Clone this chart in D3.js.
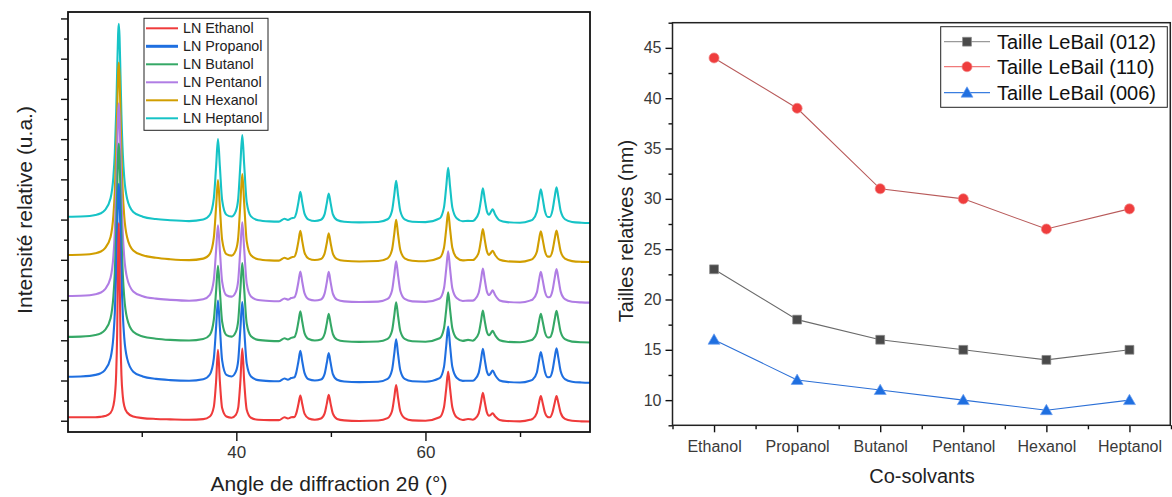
<!DOCTYPE html>
<html><head><meta charset="utf-8">
<script src="https://cdn.jsdelivr.net/npm/d3@7"></script>
<style>
html,body{margin:0;padding:0;background:#fff;}
svg{display:block;font-family:"Liberation Sans",Arial,sans-serif;}
</style></head>
<body><svg id="c" width="1172" height="497"></svg>
<script>
// ---------- Left panel data: XRD patterns (2θ in degrees, intensity in arbitrary units) ----------
const twoTheta = [
 22.2,23.5,24.5,25.1,25.6,26.1,26.7,27.0,27.15,27.3,27.4,27.5,27.57,27.65,27.75,27.85,28.0,28.15,28.45,29.1,30.1,31.5,33.0,35.0,
 36.5,37.2,37.62,37.86,38.06,38.26,38.5,38.95,39.5,39.95,40.2,40.43,40.63,40.83,41.1,41.55,42.3,43.5,
 44.5,45.1,45.45,45.8,46.15,46.33,46.57,46.77,46.97,47.21,47.65,48.3,
 48.95,49.33,49.57,49.77,49.97,50.21,50.65,51.4,53.0,
 55.0,56.0,56.46,56.7,56.9,57.1,57.34,57.8,58.6,60.0,
 61.5,61.96,62.2,62.4,62.6,62.84,63.3,63.95,64.5,65.0,
 65.2,65.63,65.87,66.07,66.27,66.5,66.72,66.9,67.1,67.38,67.85,68.6,70.0,
 71.05,71.35,71.78,72.0,72.2,72.4,72.63,72.95,73.15,73.43,73.66,73.86,74.06,74.3,74.75,75.5,76.5,77.5
];
const ethanol = [
 1.1,1.1,1.1,1.1,1.2,1.4,2.2,4.0,6.4,12.3,22.2,40.7,49.4,38.7,20.8,11.7,6.2,3.9,2.3,1.3,0.9,0.7,0.6,0.5,
 0.65,1.3,3.7,10.0,17.9,10.0,3.4,1.3,1.0,1.7,3.5,10.1,18.2,10.1,3.0,1.0,0.5,0.4,
 0.4,1.1,0.8,1.1,1.2,2.0,4.4,6.5,4.4,2.0,0.8,0.5,
 0.8,2.0,4.5,6.7,4.5,2.0,0.7,0.35,0.2,
 0.3,0.9,2.6,6.0,9.1,6.0,2.6,0.9,0.35,0.25,
 1.1,3.6,8.3,12.5,8.3,3.6,1.1,0.45,0.7,0.5,
 0.7,2.1,4.8,7.2,4.9,2.3,1.5,1.7,2.1,1.3,0.46,0.2,0.1,
 0.47,0.73,2.2,4.6,6.4,4.6,2.3,1.15,1.1,2.3,4.6,6.4,4.6,2.2,0.7,0.23,0.09,0.04
];
const propanol = [
 1.55,1.6,1.75,2.0,2.35,3.2,6.2,11.5,17.4,27.8,37.7,47.0,49.5,46.3,36.7,26.9,16.9,11.2,6.1,2.8,1.6,1.0,0.7,0.53,
 0.9,2.1,6.1,13.8,20.5,13.8,5.6,2.0,1.6,2.8,5.6,13.5,20.1,13.4,4.8,1.6,0.7,0.45,
 0.4,1.1,0.8,1.2,1.4,2.5,5.4,8.0,5.4,2.5,0.9,0.6,
 0.85,2.2,5.0,7.4,5.0,2.2,0.8,0.35,0.2,
 0.3,1.0,3.15,7.2,10.85,7.2,3.15,1.0,0.4,0.3,
 1.2,4.0,9.3,14.0,9.3,4.0,1.3,0.5,0.55,0.55,
 0.8,2.5,5.65,8.5,5.8,2.8,1.95,2.4,3.1,1.9,0.6,0.25,0.1,
 0.55,0.87,2.6,5.5,7.7,5.6,2.8,1.4,1.45,3.05,6.2,8.6,6.15,2.9,0.95,0.3,0.11,0.05
];
const butanol = [
 1.45,1.5,1.65,1.9,2.25,3.1,6.1,11.5,17.4,27.8,37.7,47.0,49.5,46.3,36.7,26.9,16.9,11.2,6.0,2.7,1.55,1.0,0.7,0.53,
 0.9,1.95,5.7,12.8,19.1,12.9,5.2,1.9,1.5,2.7,5.5,13.3,19.8,13.3,4.7,1.6,0.7,0.45,
 0.4,1.1,0.8,1.2,1.4,2.4,5.25,7.8,5.25,2.4,0.9,0.55,
 0.8,2.15,4.8,7.2,4.8,2.15,0.76,0.35,0.2,
 0.3,0.95,2.9,6.7,10.05,6.7,2.9,0.95,0.37,0.25,
 1.1,3.6,8.3,12.5,8.3,3.6,1.1,0.45,0.7,0.5,
 0.77,2.35,5.3,8.0,5.4,2.65,1.85,2.3,2.95,1.8,0.6,0.24,0.1,
 0.53,0.82,2.45,5.15,7.2,5.2,2.6,1.3,1.35,2.8,5.7,7.9,5.65,2.65,0.87,0.27,0.1,0.05
];
const pentanol = [
 1.7,1.75,1.9,2.15,2.5,3.35,6.25,11.6,17.5,27.9,37.8,47.1,49.6,46.4,36.8,27.0,17.0,11.3,6.15,2.85,1.67,1.05,0.75,0.53,
 0.9,2.0,5.7,13.0,19.3,13.0,5.3,1.9,1.55,2.75,5.6,13.5,20.0,13.4,4.8,1.6,0.7,0.45,
 0.4,1.1,0.8,1.2,1.4,2.4,5.25,7.8,5.25,2.4,0.9,0.6,
 0.86,2.3,5.15,7.7,5.15,2.3,0.8,0.36,0.2,
 0.3,0.97,3.0,6.9,10.35,6.9,3.0,0.97,0.37,0.25,
 1.1,3.65,8.5,12.8,8.5,3.65,1.2,0.47,0.55,0.55,
 0.8,2.5,5.65,8.5,5.8,2.8,1.95,2.4,3.1,1.9,0.6,0.25,0.1,
 0.56,0.87,2.6,5.5,7.7,5.6,2.8,1.4,1.45,3.0,6.1,8.4,6.0,2.8,0.93,0.29,0.11,0.05
];
const hexanol = [
 1.8,1.85,2.0,2.25,2.6,3.45,6.3,11.65,17.55,27.95,37.85,47.15,49.65,46.45,36.85,27.05,17.05,11.35,6.2,2.9,1.72,1.1,0.76,0.53,
 0.9,2.1,6.1,13.7,20.4,13.7,5.55,2.0,1.65,3.0,6.1,14.75,21.95,14.7,5.2,1.74,0.75,0.46,
 0.4,1.1,0.8,1.2,1.4,2.4,5.25,7.8,5.25,2.4,0.9,0.55,
 0.8,2.15,4.8,7.2,4.8,2.15,0.76,0.35,0.2,
 0.3,0.98,3.06,7.0,10.55,7.0,3.06,0.98,0.38,0.25,
 1.1,3.6,8.3,12.5,8.3,3.6,1.15,0.46,0.55,0.55,
 0.78,2.43,5.5,8.27,5.6,2.72,1.84,2.28,2.85,1.74,0.6,0.24,0.1,
 0.56,0.87,2.6,5.5,7.7,5.6,2.8,1.4,1.4,2.8,5.7,7.9,5.65,2.67,0.88,0.28,0.1,0.05
];
const heptanol = [
 1.6,1.65,1.8,2.05,2.4,3.25,6.2,11.55,17.45,27.85,37.75,47.05,49.55,46.35,36.75,26.95,16.95,11.25,6.1,2.8,1.62,1.03,0.74,0.53,
 0.9,2.1,6.2,14.0,20.9,14.1,5.7,2.1,1.65,3.0,6.1,14.7,21.9,14.6,5.2,1.7,0.75,0.46,
 0.4,1.1,0.8,1.2,1.4,2.4,5.25,7.8,5.25,2.4,0.9,0.55,
 0.85,2.2,5.0,7.4,5.0,2.2,0.8,0.35,0.2,
 0.3,0.98,3.06,7.0,10.55,7.0,3.06,0.98,0.38,0.27,
 1.2,3.94,9.14,13.8,9.14,3.94,1.25,0.5,0.57,0.55,
 0.83,2.57,5.8,8.7,5.94,2.93,2.1,2.72,3.47,2.1,0.69,0.26,0.11,
 0.61,0.94,2.85,6.03,8.44,6.1,3.03,1.54,1.54,3.19,6.45,8.93,6.38,3.01,0.99,0.31,0.12,0.05
];
const xrdNames   = ["LN Ethanol","LN Propanol","LN Butanol","LN Pentanol","LN Hexanol","LN Heptanol"];
const xrdOffsets = [-0.25, 9.4, 19.4, 29.3, 39.4, 49.1];   // vertical stacking offsets
const xrdTicks   = [40, 60];
const xrdMinor   = [30, 50, 70];

// ---------- Right panel data ----------
const solvents = ["Ethanol","Propanol","Butanol","Pentanol","Hexanol","Heptanol"];
const size012 = [23, 18, 16, 15, 14, 15];
const size110 = [44, 39, 31, 30, 27, 29];
const size006 = [16, 12, 11, 10, 9, 10];
const sizeNames = ["Taille LeBail (012)","Taille LeBail (110)","Taille LeBail (006)"];
const sizeTicks = [10,15,20,25,30,35,40,45];

// ---------- drawing ----------
const svg = d3.select("#c");
svg.append("rect").attr("width",1172).attr("height",497).attr("fill","#fff");
const FONT = '"Liberation Sans", Arial, sans-serif';

// ===== Left panel =====
const L = {x0:68, x1:590, y0:12, y1:432};
const xL = d3.scaleLinear().domain([22.2, 77.4]).range([L.x0, L.x1]);
const yL = d3.scaleLinear().domain([-2.8, 101.6]).range([L.y1, L.y0]);
const xrdData  = [ethanol, propanol, butanol, pentanol, hexanol, heptanol];
const xrdColors = ["#ef3b3b","#1f6fe0","#35a866","#b07de4","#d19e00","#16c3c6"];
const xrdWidths = [2.1, 2.1, 2.1, 2.1, 2.1, 2.1];

svg.append("clipPath").attr("id","clipL").append("rect")
  .attr("x",L.x0).attr("y",L.y0).attr("width",L.x1-L.x0).attr("height",L.y1-L.y0);

const gL = svg.append("g").attr("clip-path","url(#clipL)");
const lineL = d3.line().curve(d3.curveMonotoneX);
// draw heptanol first, ethanol last (on top)
for (let s = xrdData.length-1; s >= 0; s--) {
  const pts = twoTheta.map((t,i)=>[xL(t), yL(xrdData[s][i] + xrdOffsets[s])]);
  gL.append("path").attr("d", lineL(pts)).attr("fill","none")
    .attr("stroke", xrdColors[s]).attr("stroke-width", xrdWidths[s])
    .attr("stroke-linejoin","round");
}

// axes
const axBL = d3.axisBottom(xL).tickValues(xrdTicks).tickSize(9).tickPadding(5).tickFormat(d3.format("d"));
const gxL = svg.append("g").attr("transform",`translate(0,${L.y1})`).call(axBL);
svg.append("g").attr("transform",`translate(0,${L.y1})`)
  .call(d3.axisBottom(xL).tickValues(xrdMinor).tickSize(5).tickFormat(""));
const yMaj = d3.range(0, 101, 10), yMin = d3.range(5, 100, 10);
svg.append("g").attr("transform",`translate(${L.x0},0)`)
  .call(d3.axisLeft(yL).tickValues(yMaj).tickSize(7).tickFormat(""));
svg.append("g").attr("transform",`translate(${L.x0},0)`)
  .call(d3.axisLeft(yL).tickValues(yMin).tickSize(4).tickFormat(""));
svg.selectAll(".domain").remove();
svg.selectAll(".tick line").attr("stroke","#111").attr("stroke-width",1.6);
gxL.selectAll("text").attr("font-size",17).attr("fill","#333").attr("font-family",FONT);

svg.append("rect").attr("x",L.x0).attr("y",L.y0).attr("width",L.x1-L.x0).attr("height",L.y1-L.y0)
  .attr("fill","none").attr("stroke","#111").attr("stroke-width",1.8);

svg.append("text").attr("transform","translate(32,210) rotate(-90)").attr("text-anchor","middle")
  .attr("font-size",21).attr("fill","#222").text("Intensité relative (u.a.)");
svg.append("text").attr("x",329).attr("y",491).attr("text-anchor","middle")
  .attr("font-size",21).attr("fill","#222").text("Angle de diffraction 2θ (°)");

// left legend
const lg = svg.append("g");
lg.append("rect").attr("x",144).attr("y",18.3).attr("width",124).attr("height",112)
  .attr("fill","#fff").attr("stroke","#222").attr("stroke-width",1);
xrdNames.forEach((n,i)=>{
  const yy = 28.3 + i*18;
  lg.append("line").attr("x1",146).attr("x2",178).attr("y1",yy).attr("y2",yy)
    .attr("stroke",xrdColors[i]).attr("stroke-width", i===1 ? 3 : 2);
  lg.append("text").attr("x",183).attr("y",yy).attr("dy","0.36em").attr("font-size",14.3)
    .attr("fill","#222").text(n);
});

// ===== Right panel =====
const R = {x0:672.5, x1:1171, y0:22.7, y1:425.3};
const xR = d3.scaleLinear().domain([-0.5, 5.5]).range([R.x0, R.x1]);
const yR = d3.scaleLinear().domain([7.5, 47.5]).range([R.y1, R.y0]);

const gxR = svg.append("g").attr("transform",`translate(0,${R.y1})`)
  .call(d3.axisBottom(xR).tickValues(d3.range(0,6)).tickSize(7).tickPadding(8).tickFormat(i=>solvents[i]));
svg.append("g").attr("transform",`translate(0,${R.y1})`)
  .call(d3.axisBottom(xR).tickValues(d3.range(-0.5,6,1)).tickSize(4).tickFormat(""));
const gyR = svg.append("g").attr("transform",`translate(${R.x0},0)`)
  .call(d3.axisLeft(yR).tickValues(sizeTicks).tickSize(7).tickPadding(4).tickFormat(d3.format("d")));
svg.append("g").attr("transform",`translate(${R.x0},0)`)
  .call(d3.axisLeft(yR).tickValues(d3.range(7.5,48,5)).tickSize(4).tickFormat(""));
svg.selectAll(".domain").remove();
svg.selectAll(".tick line").attr("stroke","#111").attr("stroke-width",1.4);
gxR.selectAll("text").attr("font-size",16).attr("fill","#3a3a3a").attr("font-family",FONT);
gyR.selectAll("text").attr("font-size",16).attr("fill","#3a3a3a").attr("font-family",FONT);

svg.append("rect").attr("x",R.x0).attr("y",R.y0).attr("width",R.x1-R.x0-0.7).attr("height",R.y1-R.y0)
  .attr("fill","none").attr("stroke","#222").attr("stroke-width",1.5);

const sizeSeries = [size012, size110, size006];
const lineCols = ["#6a6a6a","#b85a5a","#2b6fd6"];
const legLineCols = ["#9a9a9a","#f07a7a","#3a7ee0"];
const markCols = ["#4a4a4a","#ef3d3d","#1f6fe0"];
const markEdge = ["#8a8a8a","#f08a8a","#6b9ff0"];
const symbols = [d3.symbolSquare, d3.symbolCircle, d3.symbolTriangle];
const symSizes = [78, 80, 62];
const lineR = d3.line().x((d,i)=>xR(i)).y(d=>yR(d));
sizeSeries.forEach((ser,k)=>{
  svg.append("path").attr("d",lineR(ser)).attr("fill","none").attr("stroke",lineCols[k]).attr("stroke-width",1.1);
});
sizeSeries.forEach((ser,k)=>{
  svg.selectAll(null).data(ser).enter().append("path")
    .attr("transform",(d,i)=>`translate(${xR(i)},${yR(d) + (k===2?1:0)})`)
    .attr("d", d3.symbol().type(symbols[k]).size(symSizes[k])())
    .attr("fill",markCols[k]).attr("stroke",markEdge[k]).attr("stroke-width",0.7);
});

svg.append("text").attr("transform","translate(633,231) rotate(-90)").attr("text-anchor","middle")
  .attr("font-size",20).attr("fill","#222").text("Tailles relatives (nm)");
svg.append("text").attr("x",922).attr("y",483).attr("text-anchor","middle")
  .attr("font-size",20).attr("fill","#222").text("Co-solvants");

// right legend
const rg = svg.append("g");
rg.append("rect").attr("x",940.7).attr("y",26.7).attr("width",226.6).attr("height",80.6)
  .attr("fill","#fff").attr("stroke","#222").attr("stroke-width",1);
sizeNames.forEach((n,k)=>{
  const yy = [41.7, 66.7, 92.7][k];
  rg.append("line").attr("x1",944).attr("x2",990).attr("y1",yy).attr("y2",yy)
    .attr("stroke",legLineCols[k]).attr("stroke-width",1.3);
  rg.append("path").attr("transform",`translate(967,${yy + (k===2?1:0)})`)
    .attr("d", d3.symbol().type(symbols[k]).size(symSizes[k])())
    .attr("fill",markCols[k]).attr("stroke",markEdge[k]).attr("stroke-width",0.7);
  rg.append("text").attr("x",997).attr("y",yy).attr("dy","0.36em").attr("font-size",20)
    .attr("fill","#111").text(n);
});
svg.selectAll("text").attr("font-family",FONT);
</script></body></html>
